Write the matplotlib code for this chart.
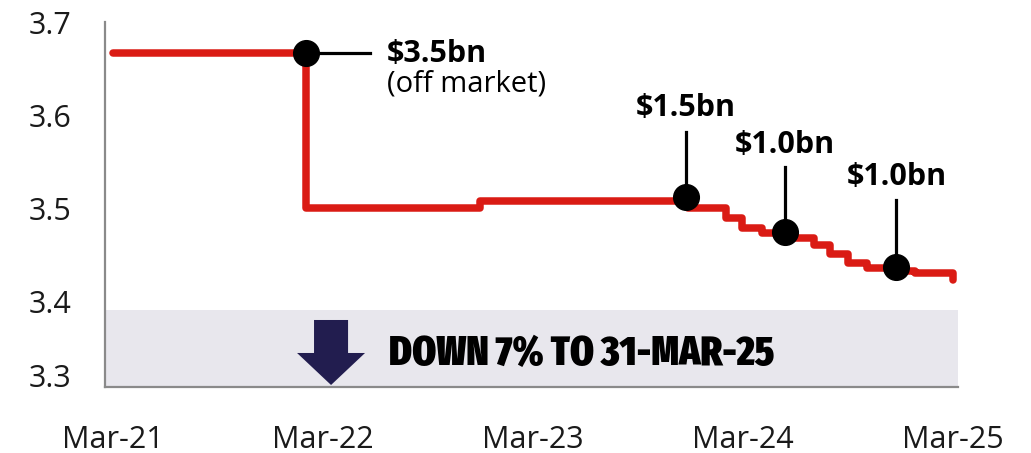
import matplotlib
matplotlib.use("Agg")
import matplotlib.pyplot as plt
from matplotlib import font_manager
from matplotlib.font_manager import FontProperties
from matplotlib.patches import FancyArrow
import pandas as pd

# ---------------- data ----------------
step_dates = ['2021-03-31', '2022-03-02', '2022-12-30', '2023-12-27', '2024-03-01',
              '2024-03-30', '2024-05-03', '2024-06-13', '2024-08-02', '2024-08-30',
              '2024-09-30', '2024-11-02', '2024-12-22', '2025-01-24', '2025-03-31']
step_values = [3.667, 3.500, 3.508, 3.500, 3.490,
               3.479, 3.473, 3.468, 3.461, 3.451,
               3.441, 3.436, 3.433, 3.430, 3.423]

buyback_dates = ['2022-03-02', '2023-12-23', '2024-06-12', '2024-12-23']
buyback_values = [3.667, 3.512, 3.474, 3.437]
buyback_labels = ['$3.5bn', '$1.5bn', '$1.0bn', '$1.0bn']
buyback_note = '(off market)'

xtick_dates = ['2021-03-31', '2022-03-31', '2023-03-31', '2024-03-31', '2025-03-31']
xtick_labels = ['Mar-21', 'Mar-22', 'Mar-23', 'Mar-24', 'Mar-25']
ytick_values = [3.4, 3.5, 3.6, 3.7]
ytick_labels = ['3.4', '3.5', '3.6', '3.7']
bottom_label = '3.3'
banner_text = 'DOWN 7% TO 31-MAR-25'

# ---------------- style ----------------
RED = '#da1b14'
NAVY = '#221d4f'
BANNER = '#e8e7ed'
TXT = '#1a1a1a'
plt.rcParams['font.family'] = ['Open Sans', 'DejaVu Sans']

# pick the most condensed, heaviest font available for the banner
stretch_rank = {'ultra-condensed': 4, 'extra-condensed': 3, 'condensed': 2,
                'semi-condensed': 1}
best = None
for f in font_manager.fontManager.ttflist:
    nm = f.name.lower()
    st = f.stretch if isinstance(f.stretch, str) else ''
    rank = stretch_rank.get(st, 0)
    if 'extracondensed' in nm or 'extra condensed' in nm:
        rank = max(rank, 3)
    elif 'semicondensed' in nm or 'semi condensed' in nm:
        rank = max(rank, 1)
    elif 'condensed' in nm or 'narrow' in nm:
        rank = max(rank, 2)
    if rank == 0:
        continue
    try:
        w = int(f.weight)
    except (TypeError, ValueError):
        w = {'bold': 700, 'black': 900, 'heavy': 900}.get(str(f.weight), 400)
    if 'black' in nm or 'heavy' in nm:
        w = max(w, 900)
    if w < 600:
        continue
    key = (rank, w)
    if best is None or key > best[0]:
        best = (key, f.fname)
if best is not None:
    banner_fp = FontProperties(fname=best[1])
else:
    banner_fp = FontProperties(family='DejaVu Sans', weight='bold')

sd = pd.to_datetime(step_dates)
bd = pd.to_datetime(buyback_dates)
xt = pd.to_datetime(xtick_dates)

fig = plt.figure(figsize=(10.31, 4.53), dpi=100)
ax = fig.add_axes([105 / 1031, (453 - 387) / 453, 853 / 1031, 365 / 453])

ylow, yhigh = 3.308, 3.7
ax.set_ylim(ylow, yhigh)
ax.set_xlim(pd.Timestamp('2021-03-17'), pd.Timestamp('2025-04-09'))

# banner
ax.axhspan(ylow, 3.391, color=BANNER, zorder=0, lw=0)
ax.add_patch(FancyArrow(0.265, 0.1836, 0, -0.1781, width=0.0399, head_width=0.0797,
                        head_length=0.0877, length_includes_head=True,
                        transform=ax.transAxes, color=NAVY, lw=0, zorder=2))
btxt = ax.text(pd.Timestamp('2022-07-24'), 3.3478, banner_text, color='black',
               va='center_baseline', ha='left', zorder=3, fontproperties=banner_fp)
btxt.set_fontsize(30)
fig.canvas.draw()
wpx = btxt.get_window_extent().width
size = 30 * 385.0 / wpx
size = min(size, 38)
btxt.set_fontsize(size)

# step line
ax.plot(sd, step_values, drawstyle='steps-post', color=RED, lw=5.4,
        solid_capstyle='round', solid_joinstyle='round', zorder=3)

# annotation lines
ax.plot([bd[0], pd.Timestamp('2022-06-21')], [buyback_values[0]] * 2, color='black',
        lw=2.3, zorder=4)
line_tops = [3.5817, 3.5441, 3.5086]
for d, v, top in zip(bd[1:], buyback_values[1:], line_tops):
    ax.plot([d, d], [v, top], color='black', lw=2.3, zorder=4)

# dots
ax.plot(bd, buyback_values, 'o', color='black', ms=18.5, zorder=5)

# labels
ax.text(pd.Timestamp('2022-07-21'), 3.657, buyback_labels[0], fontsize=22,
        fontweight='bold', color='black', ha='left', va='baseline')
ax.text(pd.Timestamp('2022-07-21'), 3.6255, buyback_note, fontsize=21,
        color='black', ha='left', va='baseline')
label_bases = [3.5989, 3.5591, 3.5247]
for d, lab, base in zip(bd[1:], buyback_labels[1:], label_bases):
    ax.text(d, base, lab, fontsize=22, fontweight='bold', color='black',
            ha='center', va='baseline')

# axes styling
for s in ['top', 'right']:
    ax.spines[s].set_visible(False)
ax.spines['left'].set_color('#8a8a8a')
ax.spines['left'].set_linewidth(1.6)
ax.spines['bottom'].set_color('#8a8a8a')
ax.spines['bottom'].set_linewidth(1.6)

ax.set_xticks(xt)
ax.set_xticklabels(xtick_labels)
ax.set_yticks(ytick_values + [ylow])
ax.set_yticklabels(ytick_labels + [bottom_label])
ax.get_yticklabels()[-1].set_verticalalignment('baseline')
ax.tick_params(axis='both', length=0, labelsize=22, colors=TXT)
ax.tick_params(axis='x', pad=27)
ax.tick_params(axis='y', pad=24)

fig.savefig('out.png', dpi=100)
